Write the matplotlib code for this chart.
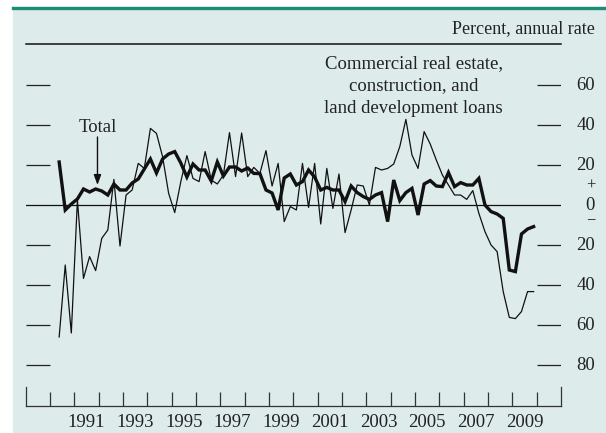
import numpy as np
import matplotlib
matplotlib.use('Agg')
import matplotlib.pyplot as plt
from matplotlib.patches import Rectangle
from matplotlib.lines import Line2D

plt.rcParams['font.family'] = ['Liberation Serif', 'DejaVu Serif']

# quarterly, 1990:Q2 - 2009:Q4, plotted at mid-quarter
quarters = 1990.375 + 0.25 * np.arange(79)

total = [21.5, -2.5, 0.5, 3, 8, 6.5, 8, 7, 5, 10.5,
         7.5, 7.5, 11, 13, 18, 23, 16, 23, 25.5, 26.7,
         21, 14, 20.5, 17.5, 17.5, 12, 21.5, 14.5, 19, 19,
         17, 18.5, 15.8, 15.7, 7.5, 6, -2.5, 13.5, 15.5, 10,
         11.7, 17.5, 14, 7.5, 8.8, 7.5, 7.5, 1.7, 9.5, 6.2,
         4.2, 2.8, 5, 6.2, -8.3, 12.5, 2.2, 6.2, 8.3, -5,
         10.5, 12.2, 9.5, 9.2, 16.2, 9.2, 11.2, 10, 10, 13.3,
         0, -3.3, -4.5, -6.7, -32.5, -33.3, -14.5, -12, -10.8]

cre = [-66, -30, -64, 2.5, -36.7, -25.8, -32.8, -16.7, -12.5, 12.8,
       -20.5, 5, 7.5, 20.8, 18.3, 38.3, 35.8, 24.2, 5.8, -3.8,
       11.7, 24.7, 13.3, 11.7, 26.7, 12.5, 10.5, 15, 36.2, 14.2,
       36, 14.2, 18.8, 15.8, 27.2, 9.5, 20.8, -8.3, -0.8, -2.5,
       20.8, -1.2, 20.8, -9.5, 18.3, -1.7, 15.5, -13.8, -2.5, 10,
       9.5, 0, 18.8, 17.5, 18.3, 20.5, 29.2, 42.8, 25, 18.3,
       36.7, 30.5, 22.5, 15, 10, 5, 5, 2.8, 7.2, -4.2,
       -13.3, -20, -23.3, -43.3, -56.2, -56.8, -53.3, -43.3, -43.3]

y_ticks = [60, 40, 20, -20, -40, -60, -80]
y_labels = ['60', '40', '20', '20', '40', '60', '80']
year_labels = list(range(1991, 2010, 2))

W, H = 606, 433
fig = plt.figure(figsize=(W / 100, H / 100), dpi=100)
fig.patch.set_facecolor('white')
fig.patches.append(Rectangle((13 / W, 0), 1 - 13 / W, (H - 7) / H,
                             transform=fig.transFigure, color='#deebeb', zorder=-10))
fig.lines.append(Line2D([13 / W, 1], [1 - 7.5 / H] * 2, transform=fig.transFigure,
                        color='#1b8c76', lw=2.4))

ax = fig.add_axes([25.7 / W, (H - 406) / H, (561 - 25.7) / W, (406 - 44) / H])
ax.set_facecolor('none')
ax.set_xlim(1989, 2011)
ax.set_ylim(-100.5, 80.5)

txt = '#222222'

ax.axhline(0, color='#111111', lw=0.9)
ax.hlines(y_ticks, 1989, 1990, color='#222222', lw=0.9)
ax.hlines(y_ticks, 2010, 2011, color='#222222', lw=0.9)

ax.plot(quarters, cre, color='#111111', lw=0.9)
ax.plot(quarters, total, color='#111111', lw=2.4, solid_joinstyle='miter')

# spines
for s in ['left', 'right']:
    ax.spines[s].set_bounds(-100.5, -90.8)
    ax.spines[s].set_color('#333333')
    ax.spines[s].set_linewidth(0.9)
ax.spines['bottom'].set_color('#333333')
ax.spines['bottom'].set_linewidth(0.9)
ax.spines['top'].set_color('#111111')
ax.spines['top'].set_linewidth(1.1)

ax.set_yticks([])
ax.set_xticks(range(1990, 2011))
ax.set_xticklabels([])
ax.tick_params(axis='x', which='major', direction='in', length=10, width=0.9, color='#333333')
ax.set_xticks([y + 0.5 for y in year_labels], minor=True)
ax.set_xticklabels([str(y) for y in year_labels], minor=True, fontsize=13.5, color=txt)
ax.tick_params(axis='x', which='minor', length=0, pad=6)

# right-hand labels
xr = 2012.4
for v, lab in zip(y_ticks, y_labels):
    ax.text(xr, v, lab, ha='right', va='center', fontsize=13.5, color=txt, clip_on=False)
ax.text(xr, 0, '0', ha='right', va='center', fontsize=13.5, color=txt, clip_on=False)
ax.text(xr, 9.5, '+', ha='right', va='center', fontsize=12, color=txt, clip_on=False)
ax.text(xr, -7.5, '\u2212', ha='right', va='center', fontsize=12, color=txt, clip_on=False)

fig.text(595 / W, 1 - 29 / H, 'Percent, annual rate', ha='right', va='center',
         fontsize=13, color=txt)

ax.text(2004.94, 59.5, 'Commercial real estate,\nconstruction, and\nland development loans',
        ha='center', va='center', multialignment='center', fontsize=13.5,
        linespacing=1.42, color=txt)
ax.text(1991.95, 39, 'Total', ha='center', va='center', fontsize=13.5, color=txt)
ax.annotate('', xy=(1991.95, 10), xytext=(1991.95, 34),
            arrowprops=dict(arrowstyle='-|>,head_length=0.6,head_width=0.22',
                            color='#111111', lw=1.0, shrinkA=0, shrinkB=0))

fig.savefig('out.png', dpi=100)
